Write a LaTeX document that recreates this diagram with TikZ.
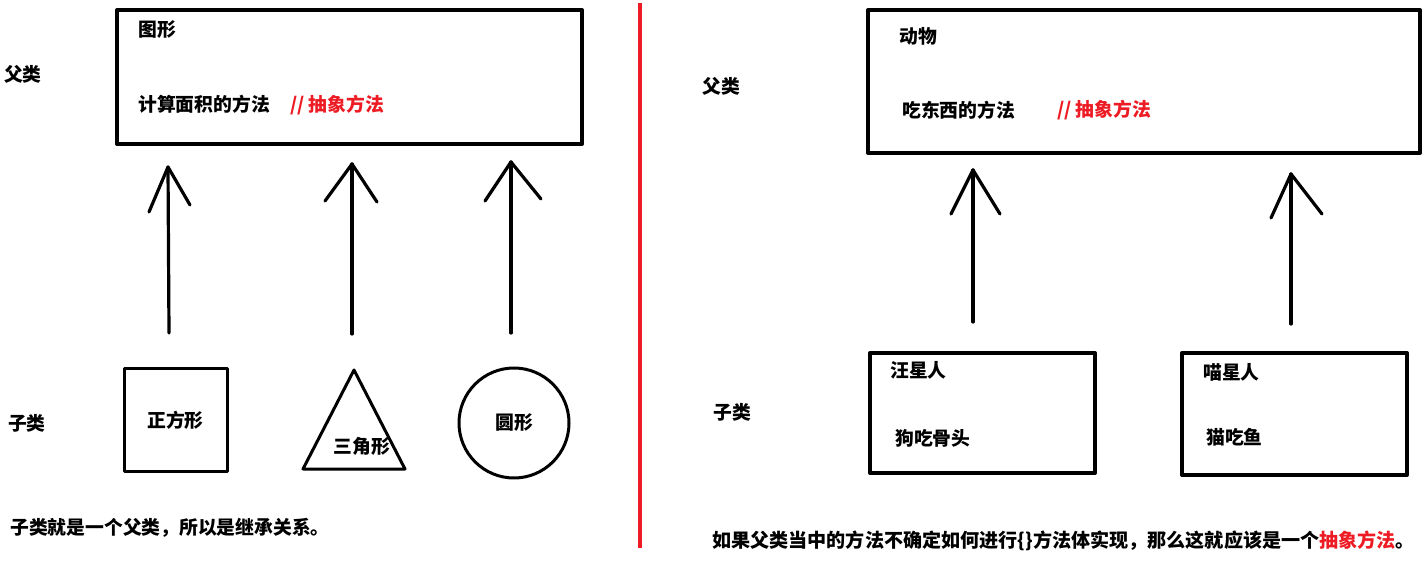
\documentclass[tikz,border=0pt]{standalone}
\usepackage{fontspec}
\setmainfont{Noto Sans CJK SC}
\definecolor{pred}{RGB}{237,28,36}
\newcommand{\txtfont}{\fontsize{18.8}{22}\selectfont\bfseries}
\newcommand{\notefont}{\fontsize{19.1}{22}\selectfont\bfseries}
\begin{document}
\begin{tikzpicture}[x=1pt,y=-1pt,line join=round,
  lbl/.style={anchor=west,inner sep=0pt,font=\txtfont},
  ctr/.style={inner sep=0pt,font=\txtfont},
  box/.style={draw,line width=4pt,inner sep=0pt,anchor=north west},
  shp/.style={draw,line width=3pt,inner sep=0pt,font=\txtfont},
  arr/.style={line width=3.2pt,line cap=round}]
\useasboundingbox[fill=white] (0,0) rectangle (1425,561);

% ---------------- left half ----------------
\node[lbl] (fl) at (4,74) {父类};
\node[lbl] (zl) at (8,423) {子类};

\node[box,minimum width=465pt,minimum height=134pt] (shape) at (115,8) {};
\node[lbl] (shapeT) at (138,30) {图形};
\node[lbl] (shapeM) at (138,104) {计算面积的方法};
\node[lbl,text=pred] (shapeA) at (290,105) {// 抽象方法};

\node[shp,minimum width=103pt,minimum height=102pt] (sq) at (175.5,420) {正方形};

\coordinate (triA) at (354,370);
\coordinate (triL) at (303,469);
\coordinate (triR) at (405,469);
\draw[line width=3pt] (triA) -- (triL) -- (triR) -- cycle;
\node[ctr] (tri) at (362,446) {三角形};

\node[shp,circle,minimum size=110pt] (circ) at (514,423) {圆形};

% arrows left
\coordinate (b1) at (169,333); \coordinate (t1) at (168,167);
\coordinate (l1) at (149,212); \coordinate (r1) at (190,205);
\coordinate (b2) at (352,334); \coordinate (t2) at (352,164);
\coordinate (l2) at (325,201); \coordinate (r2) at (377,202);
\coordinate (b3) at (511,333); \coordinate (t3) at (511,162);
\coordinate (l3) at (485,201); \coordinate (r3) at (541,199);
\foreach \i in {1,2,3}{
  \draw[arr] (b\i) -- (t\i);
  \draw[arr] (l\i) -- (t\i) -- (r\i);
}

\node[lbl] (noteL) at (10,528) {子类就是一个父类，所以是继承关系。};

% separator
\coordinate (sepT) at (640,3);
\coordinate (sepB) at (640,548);
\draw[pred,line width=4pt] (sepT) -- (sepB);

% ---------------- right half ----------------
\node[lbl] (fr) at (702,86) {父类};
\node[lbl] (zr) at (713,412) {子类};

\node[box,minimum width=552pt,minimum height=143pt] (animal) at (866,8) {};
\node[lbl] (animalT) at (899,36) {动物};
\node[lbl] (animalM) at (902,110) {吃东西的方法};
\node[lbl,text=pred] (animalA) at (1057,110) {// 抽象方法};

\node[box,minimum width=225pt,minimum height=120pt] (dog) at (868,351) {};
\node[lbl] (dogT) at (890,370) {汪星人};
\node[lbl] (dogM) at (895,438) {狗吃骨头};

\node[box,minimum width=225pt,minimum height=122pt] (cat) at (1180,351) {};
\node[lbl] (catT) at (1203,372) {喵星人};
\node[lbl] (catM) at (1206,437) {猫吃鱼};

\coordinate (b4) at (973,322); \coordinate (t4) at (973,170);
\coordinate (l4) at (951,214); \coordinate (r4) at (1000,214);
\coordinate (b5) at (1291,324); \coordinate (t5) at (1291,174);
\coordinate (l5) at (1271,218); \coordinate (r5) at (1322,214);
\foreach \i in {4,5}{
  \draw[arr] (b\i) -- (t\i);
  \draw[arr] (l\i) -- (t\i) -- (r\i);
}

\node[lbl,font=\notefont] (noteR) at (712,541) {如果父类当中的方法不确定如何进行\{\}方法体实现，那么这就应该是一个\textcolor{pred}{抽象方法}。};
\end{tikzpicture}
\end{document}
